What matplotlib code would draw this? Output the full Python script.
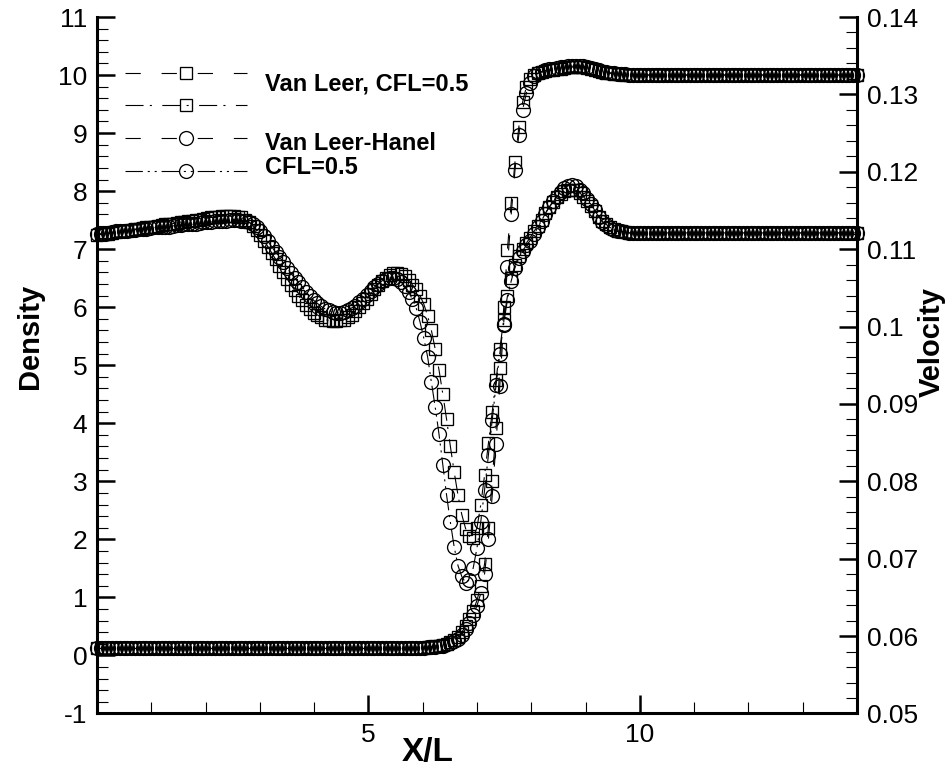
import numpy as np
import matplotlib
matplotlib.use("Agg")
import matplotlib.pyplot as plt
from matplotlib import font_manager
from matplotlib.ticker import MultipleLocator, FixedLocator, FuncFormatter

# ---------------- data ----------------
x_step = 0.07
n_points = 201
x = np.round(np.arange(n_points) * x_step, 4)   # X/L grid, 0 .. 14

density_vl = [  # Van Leer, squares
    0.12, 0.12, 0.12, 0.12, 0.12, 0.12, 0.12, 0.12, 0.12, 0.12,
    0.12, 0.12, 0.12, 0.12, 0.12, 0.12, 0.12, 0.12, 0.12, 0.12,
    0.12, 0.12, 0.12, 0.12, 0.12, 0.12, 0.12, 0.12, 0.12, 0.12,
    0.12, 0.12, 0.12, 0.12, 0.12, 0.12, 0.12, 0.12, 0.12, 0.12,
    0.12, 0.12, 0.12, 0.12, 0.12, 0.12, 0.12, 0.12, 0.12, 0.12,
    0.12, 0.12, 0.12, 0.12, 0.12, 0.12, 0.12, 0.12, 0.12, 0.12,
    0.12, 0.12, 0.12, 0.12, 0.12, 0.12, 0.12, 0.12, 0.12, 0.12,
    0.12, 0.12, 0.12, 0.12, 0.12, 0.12, 0.12, 0.12, 0.12, 0.12,
    0.12, 0.12, 0.12, 0.12, 0.12, 0.13, 0.13, 0.14, 0.15, 0.16,
    0.17, 0.18, 0.20, 0.23, 0.27, 0.32, 0.40, 0.50, 0.62, 0.77,
    0.95, 1.20, 1.58, 2.20, 3.00, 3.92, 4.95, 6.00, 6.98, 7.80,
    8.50, 9.10, 9.53, 9.80, 9.94, 10.00, 10.03, 10.05, 10.07, 10.08,
    10.09, 10.10, 10.11, 10.12, 10.13, 10.13, 10.14, 10.14, 10.13, 10.12,
    10.11, 10.09, 10.07, 10.05, 10.04, 10.03, 10.02, 10.01, 10.01, 10.00,
    10.00, 10.00, 10.00, 10.00, 10.00, 10.00, 10.00, 10.00, 10.00, 10.00,
    10.00, 10.00, 10.00, 10.00, 10.00, 10.00, 10.00, 10.00, 10.00, 10.00,
    10.00, 10.00, 10.00, 10.00, 10.00, 10.00, 10.00, 10.00, 10.00, 10.00,
    10.00, 10.00, 10.00, 10.00, 10.00, 10.00, 10.00, 10.00, 10.00, 10.00,
    10.00, 10.00, 10.00, 10.00, 10.00, 10.00, 10.00, 10.00, 10.00, 10.00,
    10.00, 10.00, 10.00, 10.00, 10.00, 10.00, 10.00, 10.00, 10.00, 10.00,
    10.00,
]

density_vlh = [  # Van Leer-Hanel, circles
    0.12, 0.12, 0.12, 0.12, 0.12, 0.12, 0.12, 0.12, 0.12, 0.12,
    0.12, 0.12, 0.12, 0.12, 0.12, 0.12, 0.12, 0.12, 0.12, 0.12,
    0.12, 0.12, 0.12, 0.12, 0.12, 0.12, 0.12, 0.12, 0.12, 0.12,
    0.12, 0.12, 0.12, 0.12, 0.12, 0.12, 0.12, 0.12, 0.12, 0.12,
    0.12, 0.12, 0.12, 0.12, 0.12, 0.12, 0.12, 0.12, 0.12, 0.12,
    0.12, 0.12, 0.12, 0.12, 0.12, 0.12, 0.12, 0.12, 0.12, 0.12,
    0.12, 0.12, 0.12, 0.12, 0.12, 0.12, 0.12, 0.12, 0.12, 0.12,
    0.12, 0.12, 0.12, 0.12, 0.12, 0.12, 0.12, 0.12, 0.12, 0.12,
    0.12, 0.12, 0.12, 0.12, 0.12, 0.13, 0.13, 0.14, 0.14, 0.15,
    0.16, 0.17, 0.19, 0.21, 0.24, 0.29, 0.36, 0.45, 0.56, 0.70,
    0.86, 1.07, 1.41, 2.00, 2.75, 3.65, 4.65, 5.70, 6.70, 7.60,
    8.36, 8.97, 9.40, 9.69, 9.87, 9.98, 10.03, 10.06, 10.08, 10.10,
    10.11, 10.12, 10.13, 10.14, 10.15, 10.15, 10.16, 10.16, 10.15, 10.14,
    10.12, 10.10, 10.08, 10.06, 10.05, 10.04, 10.03, 10.02, 10.01, 10.01,
    10.00, 10.00, 10.00, 10.00, 10.00, 10.00, 10.00, 10.00, 10.00, 10.00,
    10.00, 10.00, 10.00, 10.00, 10.00, 10.00, 10.00, 10.00, 10.00, 10.00,
    10.00, 10.00, 10.00, 10.00, 10.00, 10.00, 10.00, 10.00, 10.00, 10.00,
    10.00, 10.00, 10.00, 10.00, 10.00, 10.00, 10.00, 10.00, 10.00, 10.00,
    10.00, 10.00, 10.00, 10.00, 10.00, 10.00, 10.00, 10.00, 10.00, 10.00,
    10.00, 10.00, 10.00, 10.00, 10.00, 10.00, 10.00, 10.00, 10.00, 10.00,
    10.00,
]

velocity_vl = [  # Van Leer, squares
    0.1118, 0.1119, 0.1120, 0.1120, 0.1121, 0.1122, 0.1123, 0.1123, 0.1124, 0.1125,
    0.1126, 0.1126, 0.1127, 0.1128, 0.1129, 0.1129, 0.1130, 0.1131, 0.1132, 0.1132,
    0.1133, 0.1134, 0.1135, 0.1135, 0.1136, 0.1137, 0.1138, 0.1138, 0.1139, 0.1140,
    0.1141, 0.1141, 0.1142, 0.1143, 0.1143, 0.1143, 0.1143, 0.1142, 0.1141, 0.1138,
    0.1135, 0.1130, 0.1125, 0.1118, 0.1111, 0.1103, 0.1095, 0.1087, 0.1078, 0.1070,
    0.1062, 0.1054, 0.1047, 0.1040, 0.1034, 0.1028, 0.1023, 0.1018, 0.1015, 0.1012,
    0.1009, 0.1008, 0.1007, 0.1007, 0.1008, 0.1009, 0.1012, 0.1015, 0.1020, 0.1025,
    0.1030, 0.1036, 0.1042, 0.1048, 0.1054, 0.1059, 0.1063, 0.1066, 0.1069, 0.1069,
    0.1068, 0.1065, 0.1060, 0.1054, 0.1048, 0.1040, 0.1029, 0.1014, 0.0995, 0.0971,
    0.0944, 0.0913, 0.0880, 0.0845, 0.0812, 0.0782, 0.0757, 0.0739, 0.0729, 0.0727,
    0.0740, 0.0770, 0.0808, 0.0849, 0.0890, 0.0931, 0.0971, 0.1008, 0.1039, 0.1063,
    0.1079, 0.1091, 0.1100, 0.1108, 0.1115, 0.1123, 0.1130, 0.1138, 0.1147, 0.1154,
    0.1161, 0.1167, 0.1171, 0.1175, 0.1177, 0.1177, 0.1176, 0.1173, 0.1168, 0.1162,
    0.1156, 0.1149, 0.1142, 0.1136, 0.1132, 0.1128, 0.1126, 0.1123, 0.1123, 0.1122,
    0.1121, 0.1121, 0.1121, 0.1121, 0.1121, 0.1121, 0.1121, 0.1121, 0.1121, 0.1121,
    0.1121, 0.1121, 0.1121, 0.1121, 0.1121, 0.1121, 0.1121, 0.1121, 0.1121, 0.1121,
    0.1121, 0.1121, 0.1121, 0.1121, 0.1121, 0.1121, 0.1121, 0.1121, 0.1121, 0.1121,
    0.1121, 0.1121, 0.1121, 0.1121, 0.1121, 0.1121, 0.1121, 0.1121, 0.1121, 0.1121,
    0.1121, 0.1121, 0.1121, 0.1121, 0.1121, 0.1121, 0.1121, 0.1121, 0.1121, 0.1121,
    0.1121, 0.1121, 0.1121, 0.1121, 0.1121, 0.1121, 0.1121, 0.1121, 0.1121, 0.1121,
    0.1121,
]

velocity_vlh = [  # Van Leer-Hanel, circles
    0.1119, 0.1120, 0.1120, 0.1121, 0.1122, 0.1123, 0.1123, 0.1123, 0.1124, 0.1125,
    0.1125, 0.1126, 0.1126, 0.1126, 0.1127, 0.1128, 0.1128, 0.1129, 0.1129, 0.1129,
    0.1130, 0.1131, 0.1131, 0.1132, 0.1132, 0.1132, 0.1133, 0.1134, 0.1135, 0.1135,
    0.1135, 0.1136, 0.1136, 0.1137, 0.1137, 0.1138, 0.1138, 0.1138, 0.1137, 0.1136,
    0.1135, 0.1132, 0.1128, 0.1123, 0.1117, 0.1110, 0.1103, 0.1096, 0.1090, 0.1083,
    0.1076, 0.1069, 0.1063, 0.1057, 0.1051, 0.1045, 0.1039, 0.1034, 0.1030, 0.1026,
    0.1023, 0.1021, 0.1019, 0.1018, 0.1018, 0.1019, 0.1021, 0.1024, 0.1027, 0.1032,
    0.1036, 0.1041, 0.1046, 0.1051, 0.1055, 0.1059, 0.1061, 0.1063, 0.1063, 0.1061,
    0.1057, 0.1052, 0.1045, 0.1035, 0.1024, 0.1006, 0.0985, 0.0961, 0.0928, 0.0896,
    0.0861, 0.0821, 0.0782, 0.0747, 0.0715, 0.0691, 0.0677, 0.0669, 0.0673, 0.0688,
    0.0714, 0.0748, 0.0789, 0.0834, 0.0879, 0.0924, 0.0965, 0.1003, 0.1034, 0.1059,
    0.1076, 0.1089, 0.1098, 0.1105, 0.1111, 0.1119, 0.1128, 0.1137, 0.1146, 0.1154,
    0.1162, 0.1168, 0.1174, 0.1179, 0.1182, 0.1183, 0.1181, 0.1177, 0.1172, 0.1165,
    0.1158, 0.1150, 0.1142, 0.1135, 0.1131, 0.1127, 0.1125, 0.1123, 0.1123, 0.1122,
    0.1121, 0.1121, 0.1121, 0.1121, 0.1121, 0.1121, 0.1121, 0.1121, 0.1121, 0.1121,
    0.1121, 0.1121, 0.1121, 0.1121, 0.1121, 0.1121, 0.1121, 0.1121, 0.1121, 0.1121,
    0.1121, 0.1121, 0.1121, 0.1121, 0.1121, 0.1121, 0.1121, 0.1121, 0.1121, 0.1121,
    0.1121, 0.1121, 0.1121, 0.1121, 0.1121, 0.1121, 0.1121, 0.1121, 0.1121, 0.1121,
    0.1121, 0.1121, 0.1121, 0.1121, 0.1121, 0.1121, 0.1121, 0.1121, 0.1121, 0.1121,
    0.1121, 0.1121, 0.1121, 0.1121, 0.1121, 0.1121, 0.1121, 0.1121, 0.1121, 0.1121,
    0.1121,
]

legend_labels = ["Van Leer, CFL=0.5", "Van Leer-Hanel", "CFL=0.5"]
x_major_ticks = [5, 10]
x_minor_ticks = [1, 2, 3, 4, 6, 7, 8, 9, 11, 12, 13]

# ---------------- style ----------------
installed = {f.name for f in font_manager.fontManager.ttflist}
base_font = "Liberation Sans" if "Liberation Sans" in installed else "DejaVu Sans"
title_font = ["Liberation Sans Narrow", base_font] if "Liberation Sans Narrow" in installed else [base_font]
plt.rcParams["font.family"] = [base_font, "DejaVu Sans"]
plt.rcParams["lines.scale_dashes"] = False
plt.rcParams["axes.unicode_minus"] = False

fig = plt.figure(figsize=(9.5, 7.8), dpi=100)
ax = fig.add_axes([0.1021, 0.0853, 0.8, 0.8929])
ax2 = ax.twinx()

dash_long = (0, (11, 15))
dash_dot = (0, (13, 4.5, 1.5, 7.5))
dash_dotdot = (0, (12.5, 3.5, 1.5, 3.5, 1.5, 3.5))

common = dict(color="black", lw=0.8, mfc="none", mec="black", mew=0.95, clip_on=False)
h1, = ax.plot(x, density_vl, ls=dash_long, marker="s", ms=8, **common)
h3, = ax.plot(x, density_vlh, ls=dash_long, marker="o", ms=10, **common)
h2, = ax2.plot(x, velocity_vl, ls=dash_dot, marker="s", ms=8, **common)
h4, = ax2.plot(x, velocity_vlh, ls=dash_dotdot, marker="o", ms=10, **common)

ax.set_xlim(0, 14)
ax.set_ylim(-1, 11)
ax2.set_ylim(0.05, 0.14)

for s in ["top", "right"]:
    ax.spines[s].set_visible(False)
for s in ["top", "left", "bottom"]:
    ax2.spines[s].set_visible(False)
for s in ["left", "bottom"]:
    ax.spines[s].set_linewidth(2.2)
ax2.spines["right"].set_linewidth(2.2)

ax.xaxis.set_major_locator(FixedLocator(x_major_ticks))
ax.xaxis.set_minor_locator(FixedLocator(x_minor_ticks))
ax.yaxis.set_major_locator(MultipleLocator(1))
ax.yaxis.set_minor_locator(MultipleLocator(0.2))
ax2.yaxis.set_major_locator(MultipleLocator(0.01))
ax2.yaxis.set_minor_locator(MultipleLocator(0.002))
ax2.yaxis.set_major_formatter(FuncFormatter(lambda v, p: f"{round(v, 3):g}"))

for a in (ax, ax2):
    a.tick_params(which="major", direction="in", length=13, width=1.8,
                  labelsize=19, pad=7, colors="black")
    a.tick_params(which="minor", direction="in", length=8, width=0.8)
ax.tick_params(which="both", top=False, right=False)
ax2.tick_params(which="both", left=False, right=True, top=False, bottom=False)

# axis titles
fig.text(30 / 950, 1 - 336 / 780, "Density", rotation=90, ha="center", va="center",
         fontsize=21, fontweight="bold", family=title_font)
fig.text(932 / 950, 1 - 342 / 780, "Velocity", rotation=90, ha="center", va="center",
         fontsize=21, fontweight="bold", family=title_font)
fig.text(428 / 950, 1 - 752 / 780, "X/L", ha="center", va="center",
         fontsize=24, fontweight="bold", family=title_font)

# legend keys
leg = ax2.legend([h1, h2, h3, h4], [" ", " ", " ", " "], loc="upper left",
                 bbox_to_anchor=(125 / 950, 1 - 64 / 780), bbox_transform=fig.transFigure,
                 frameon=False, fontsize=17, handlelength=5.17, numpoints=1,
                 borderpad=0, borderaxespad=0, labelspacing=0.45, handletextpad=0.3)

fig.text(265 / 950, 1 - 84 / 780, legend_labels[0], ha="left", va="center",
         fontsize=17, fontweight="bold")
fig.text(265 / 950, 1 - 143 / 780, legend_labels[1], ha="left", va="center",
         fontsize=17, fontweight="bold")
fig.text(265 / 950, 1 - 168 / 780, legend_labels[2], ha="left", va="center",
         fontsize=17, fontweight="bold")

fig.savefig("out.png", dpi=100, facecolor="white")
